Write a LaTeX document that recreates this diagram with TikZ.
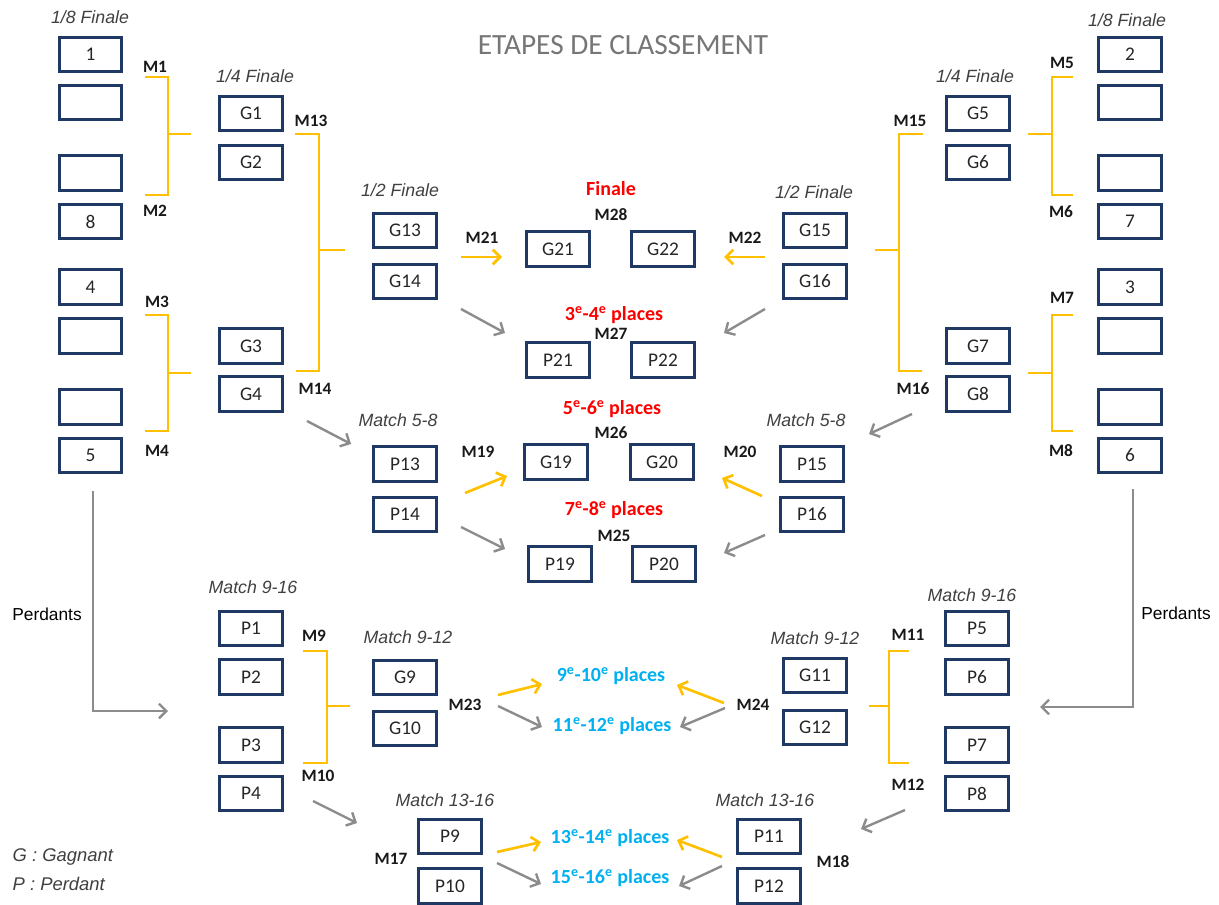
\documentclass[tikz,border=0pt]{standalone}
\usepackage{fontspec}
\setmainfont{Carlito}
\newfontfamily\arialfont{Liberation Sans}
\usetikzlibrary{arrows.meta}

\definecolor{navy}{RGB}{31,56,100}
\definecolor{gold}{RGB}{255,192,0}
\definecolor{arrowgray}{RGB}{140,140,140}
\definecolor{titlegray}{RGB}{118,118,118}
\definecolor{placered}{RGB}{255,0,0}
\definecolor{placeblue}{RGB}{0,176,240}
\definecolor{stagegray}{RGB}{64,64,64}

\begin{document}
\begin{tikzpicture}[
    x=0.75pt, y=-0.75pt,
    >={Straight Barb[length=5.5pt,width=11pt]},
    slot/.style={draw=navy, line width=2.1pt, minimum width=47pt, minimum height=26pt,
                 inner sep=0pt, font=\fontsize{14.5}{16}\selectfont, text=black!85},
    match/.style={font=\bfseries\fontsize{13}{15}\selectfont, text=black!90},
    stage/.style={font=\arialfont\itshape\fontsize{13.3}{15}\selectfont, text=stagegray},
    place/.style={font=\bfseries\fontsize{15}{17}\selectfont},
    bracket/.style={draw=gold, line width=2pt},
    win/.style={->, draw=gold, line width=2pt},
    lose/.style={->, draw=arrowgray, line width=1.8pt}
]
\useasboundingbox (0,0) rectangle (1219,905);

% ---------------- Title ----------------
\node[font=\fontsize{22}{26}\selectfont, text=titlegray] (title) at (623,45) {ETAPES DE CLASSEMENT};

% ---------------- Stage labels ----------------
\node[stage] (st8l)  at (90,17)   {1/8 Finale};
\node[stage] (st8r)  at (1127,20) {1/8 Finale};
\node[stage] (st4l)  at (255,76)  {1/4 Finale};
\node[stage] (st4r)  at (975,76)  {1/4 Finale};
\node[stage] (st2l)  at (400,190) {1/2 Finale};
\node[stage] (st2r)  at (814,192) {1/2 Finale};
\node[stage] (st58l) at (398,420) {Match 5-8};
\node[stage] (st58r) at (806,420) {Match 5-8};
\node[stage] (st916l) at (253,587) {Match 9-16};
\node[stage] (st916r) at (972,595) {Match 9-16};
\node[stage] (st912l) at (408,637) {Match 9-12};
\node[stage] (st912r) at (815,638) {Match 9-12};
\node[stage] (st1316l) at (445,800) {Match 13-16};
\node[stage] (st1316r) at (765,800) {Match 13-16};

% ---------------- 1/8 Finale ----------------
\node[slot] (l8a) at (90.5,54.5)  {1};
\node[slot] (l8b) at (90.5,102.5) {};
\node[slot] (l8c) at (90.5,173)   {};
\node[slot] (l8d) at (90.5,221.5) {8};
\node[slot] (l8e) at (90.5,287)   {4};
\node[slot] (l8f) at (90.5,336)   {};
\node[slot] (l8g) at (90.5,407)   {};
\node[slot] (l8h) at (90.5,455.5) {5};

\node[slot] (r8a) at (1130,54.5)  {2};
\node[slot] (r8b) at (1130,102.5) {};
\node[slot] (r8c) at (1130,173)   {};
\node[slot] (r8d) at (1130,221.5) {7};
\node[slot] (r8e) at (1130,287)   {3};
\node[slot] (r8f) at (1130,336)   {};
\node[slot] (r8g) at (1130,407)   {};
\node[slot] (r8h) at (1130,455.5) {6};

% ---------------- 1/4 Finale ----------------
\node[slot] (g1) at (251,113.5) {G1};
\node[slot] (g2) at (251,162.5) {G2};
\node[slot] (g3) at (251,346)   {G3};
\node[slot] (g4) at (251,394)   {G4};
\node[slot] (g5) at (978,113.5) {G5};
\node[slot] (g6) at (978,162.5) {G6};
\node[slot] (g7) at (978,346)   {G7};
\node[slot] (g8) at (978,394)   {G8};

% ---------------- 1/2 Finale ----------------
\node[slot] (g13) at (405,230.5) {G13};
\node[slot] (g14) at (405,281.5) {G14};
\node[slot] (g15) at (815,230.5) {G15};
\node[slot] (g16) at (815,281.5) {G16};

% ---------------- Finale and 3-4 ----------------
\node[place, text=placered] (fin)  at (611,189) {Finale};
\node[match] (m28) at (611,215) {M28};
\node[slot] (g21) at (558,249) {G21};
\node[slot] (g22) at (663,249) {G22};

\node[place, text=placered] (pl34) at (614,315) {3\textsuperscript{e}-4\textsuperscript{e} places};
\node[match] (m27) at (611,334) {M27};
\node[slot] (p21) at (558,360) {P21};
\node[slot] (p22) at (663,360) {P22};

% ---------------- Match 5-8 ----------------
\node[slot] (p13) at (405,464)   {P13};
\node[slot] (p14) at (405,514.5) {P14};
\node[slot] (p15) at (812,464)   {P15};
\node[slot] (p16) at (812,514.5) {P16};

\node[place, text=placered] (pl56) at (612,409) {5\textsuperscript{e}-6\textsuperscript{e} places};
\node[match] (m26) at (611,433) {M26};
\node[slot] (g19) at (556,462) {G19};
\node[slot] (g20) at (662,462) {G20};

\node[place, text=placered] (pl78) at (614,510) {7\textsuperscript{e}-8\textsuperscript{e} places};
\node[match] (m25) at (614,536) {M25};
\node[slot] (p19) at (560,564) {P19};
\node[slot] (p20) at (664,564) {P20};

% ---------------- Match 9-16 ----------------
\node[slot] (p1) at (251,628.5) {P1};
\node[slot] (p2) at (251,677)   {P2};
\node[slot] (p3) at (251,745)   {P3};
\node[slot] (p4) at (251,793.5) {P4};
\node[slot] (p5) at (977,628.5) {P5};
\node[slot] (p6) at (977,677)   {P6};
\node[slot] (p7) at (977,745)   {P7};
\node[slot] (p8) at (977,793.5) {P8};

% ---------------- Match 9-12 ----------------
\node[slot] (g9)  at (405,677.5) {G9};
\node[slot] (g10) at (405,728.5) {G10};
\node[slot] (g11) at (815,675.5) {G11};
\node[slot] (g12) at (815,727.5) {G12};

\node[place, text=placeblue] (pl910)  at (611,676) {9\textsuperscript{e}-10\textsuperscript{e} places};
\node[place, text=placeblue] (pl1112) at (612,726) {11\textsuperscript{e}-12\textsuperscript{e} places};

% ---------------- Match 13-16 ----------------
\node[slot] (p9)  at (450,836.5) {P9};
\node[slot] (p10) at (450,886)   {P10};
\node[slot] (p11) at (769,836.5) {P11};
\node[slot] (p12) at (769,886)   {P12};

\node[place, text=placeblue] (pl1314) at (610,838) {13\textsuperscript{e}-14\textsuperscript{e} places};
\node[place, text=placeblue] (pl1516) at (610,878) {15\textsuperscript{e}-16\textsuperscript{e} places};

% ---------------- Match numbers ----------------
\node[match] (m1)  at (155,67)  {M1};
\node[match] (m2)  at (155,211) {M2};
\node[match] (m3)  at (157,302) {M3};
\node[match] (m4)  at (157,451) {M4};
\node[match] (m5)  at (1062,63) {M5};
\node[match] (m6)  at (1061,212) {M6};
\node[match] (m7)  at (1062,298) {M7};
\node[match] (m8)  at (1061,451) {M8};
\node[match] (m9)  at (314,636) {M9};
\node[match] (m10) at (318,776) {M10};
\node[match] (m11) at (908,635) {M11};
\node[match] (m12) at (908,785) {M12};
\node[match] (m13) at (311,121) {M13};
\node[match] (m14) at (315,389) {M14};
\node[match] (m15) at (910,121) {M15};
\node[match] (m16) at (913,389) {M16};
\node[match] (m17) at (391,859) {M17};
\node[match] (m18) at (833,862) {M18};
\node[match] (m19) at (478,452) {M19};
\node[match] (m20) at (740,452) {M20};
\node[match] (m21) at (482,238) {M21};
\node[match] (m22) at (745,238) {M22};
\node[match] (m23) at (465,705) {M23};
\node[match] (m24) at (753,705) {M24};

% ---------------- Brackets ----------------
% M1 / M2, M3 / M4
\draw[bracket] (145,77) -| (168,195) -- (145,195) (168,134) -- (191,134);
\draw[bracket] (145,315) -| (168,431) -- (145,431) (168,373) -- (191,373);
% M5 / M6, M7 / M8
\draw[bracket] (1073,77) -| (1052,195) -- (1073,195) (1052,134) -- (1028,134);
\draw[bracket] (1073,315) -| (1052,431) -- (1073,431) (1052,373) -- (1028,373);
% M13 / M14, M15 / M16
\draw[bracket] (295,134) -| (319,371) -- (296,371) (319,250) -- (345,250);
\draw[bracket] (923,134) -| (899,371) -- (922,371) (899,250) -- (875,250);
% M9 / M10, M11 / M12
\draw[bracket] (303,651) -| (327,763) -- (303,763) (327,706) -- (350,706);
\draw[bracket] (909,651) -| (889,763) -- (909,763) (889,706) -- (869,706);

% ---------------- Arrow ends ----------------
\coordinate (w21a) at (461,257);  \coordinate (w21b) at (502,257);
\coordinate (w22a) at (765,257);  \coordinate (w22b) at (724,257);
\coordinate (w19a) at (465,493);  \coordinate (w19b) at (507,476);
\coordinate (w20a) at (762,496);  \coordinate (w20b) at (722,478);
\coordinate (w23a) at (498,695);  \coordinate (w23b) at (542,684);
\coordinate (w24a) at (724,703);  \coordinate (w24b) at (677,685);
\coordinate (w17a) at (497,852);  \coordinate (w17b) at (541,842);
\coordinate (w18a) at (722,857);  \coordinate (w18b) at (677,840);

\coordinate (x27a) at (461,309);  \coordinate (x27b) at (505,333);
\coordinate (y27a) at (765,309);  \coordinate (y27b) at (724,333);
\coordinate (x14a) at (307,421);  \coordinate (x14b) at (351,444);
\coordinate (x16a) at (912,414);  \coordinate (x16b) at (869,434);
\coordinate (x25a) at (461,527);  \coordinate (x25b) at (505,549);
\coordinate (y25a) at (765,535);  \coordinate (y25b) at (724,553);
\coordinate (x23a) at (498,706);  \coordinate (x23b) at (542,727);
\coordinate (x24a) at (725,708);  \coordinate (x24b) at (680,727);
\coordinate (x10a) at (313,801);  \coordinate (x10b) at (357,823);
\coordinate (x12a) at (905,810);  \coordinate (x12b) at (861,829);
\coordinate (x17a) at (497,863);  \coordinate (x17b) at (541,884);
\coordinate (x18a) at (722,866);  \coordinate (x18b) at (679,886);

\coordinate (perdla) at (93,491);   \coordinate (perdlb) at (168,711);
\coordinate (perdra) at (1133,489); \coordinate (perdrb) at (1040,707);

% ---------------- Winners ----------------
\draw[win] (w21a) -- (w21b);
\draw[win] (w22a) -- (w22b);
\draw[win] (w19a) -- (w19b);
\draw[win] (w20a) -- (w20b);
\draw[win] (w23a) -- (w23b);
\draw[win] (w24a) -- (w24b);
\draw[win] (w17a) -- (w17b);
\draw[win] (w18a) -- (w18b);

% ---------------- Losers ----------------
\draw[lose] (x27a) -- (x27b);
\draw[lose] (y27a) -- (y27b);
\draw[lose] (x14a) -- (x14b);
\draw[lose] (x16a) -- (x16b);
\draw[lose] (x25a) -- (x25b);
\draw[lose] (y25a) -- (y25b);
\draw[lose] (x23a) -- (x23b);
\draw[lose] (x24a) -- (x24b);
\draw[lose] (x10a) -- (x10b);
\draw[lose] (x12a) -- (x12b);
\draw[lose] (x17a) -- (x17b);
\draw[lose] (x18a) -- (x18b);

% Perdants
\draw[lose] (perdla) |- (perdlb);
\draw[lose] (perdra) |- (perdrb);
\node[font=\arialfont\fontsize{13}{15}\selectfont] (perdl) at (47,614) {Perdants};
\node[font=\arialfont\fontsize{13}{15}\selectfont] (perdr) at (1176,613) {Perdants};

% ---------------- Legend ----------------
\node[stage, anchor=west, font=\arialfont\itshape\fontsize{13.8}{16}\selectfont] (legg) at (8,857) {G : Gagnant};
\node[stage, anchor=west, font=\arialfont\itshape\fontsize{13.8}{16}\selectfont] (legp) at (8,884) {P : Perdant};

\end{tikzpicture}
\end{document}
